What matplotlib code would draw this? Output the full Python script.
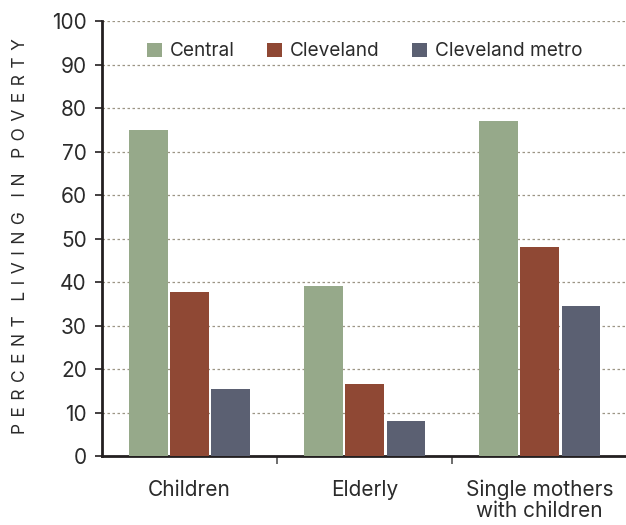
import matplotlib

matplotlib.use("Agg")
import matplotlib.pyplot as plt
import numpy as np

categories = ["Children", "Elderly", "Single mothers\nwith children"]
series_names = ["Central", "Cleveland", "Cleveland metro"]
central = [75, 39, 77]
cleveland = [37.8, 16.6, 48.1]
cleveland_metro = [15.5, 8.1, 34.6]
y_ticks = [0, 10, 20, 30, 40, 50, 60, 70, 80, 90, 100]
y_label = "PERCENT LIVING IN POVERTY"

COLORS = ["#96a98a", "#8f4834", "#5b6072"]
TEXT = "#2b2b2b"
GRID = "#9c9585"

plt.rcParams["font.family"] = ["Inter", "DejaVu Sans"]

fig = plt.figure(figsize=(6.26, 5.25), dpi=100)
ax = fig.add_axes([0.163, 0.131, 0.839, 0.829])

x = np.arange(len(categories))
width = 0.222
step = 0.236
for i, (name, vals) in enumerate(zip(series_names, [central, cleveland, cleveland_metro])):
    ax.bar(x + (i - 1) * step, vals, width, color=COLORS[i], label=name, zorder=3)

ax.set_xlim(-0.5, 2.5)
ax.set_ylim(0, 100)
ax.set_yticks(y_ticks)
ax.yaxis.grid(True, linestyle=(0, (2, 2)), color=GRID, linewidth=0.9, zorder=0)
ax.set_axisbelow(True)

for side in ("top", "right"):
    ax.spines[side].set_visible(False)
for side in ("left", "bottom"):
    ax.spines[side].set_linewidth(2)
    ax.spines[side].set_color("#231f20")

ax.tick_params(axis="y", length=5, width=1.2, color="#231f20", labelsize=15, labelcolor=TEXT, pad=6)
ax.set_xticks(x)
ax.set_xticklabels(categories, fontsize=15, color=TEXT, linespacing=1.05)
ax.tick_params(axis="x", which="major", length=0, pad=17)
ax.set_xticks([0.5, 1.5], minor=True)
ax.tick_params(axis="x", which="minor", length=6, width=1.2, color="#555555")

# letter-spaced axis title
spaced = "   ".join(" \u200a".join(word) for word in y_label.split())
ax.set_ylabel(spaced, fontsize=12.5, color=TEXT)
ax.yaxis.set_label_coords(-0.14, 0.505)

ax.legend(loc="upper center", bbox_to_anchor=(0.5, 0.99), ncol=3, frameon=False,
          fontsize=13.7, handlelength=0.8, handleheight=0.8, handletextpad=0.4,
          columnspacing=1.7, labelcolor=TEXT)

fig.savefig("out.png", dpi=100, facecolor="white")
